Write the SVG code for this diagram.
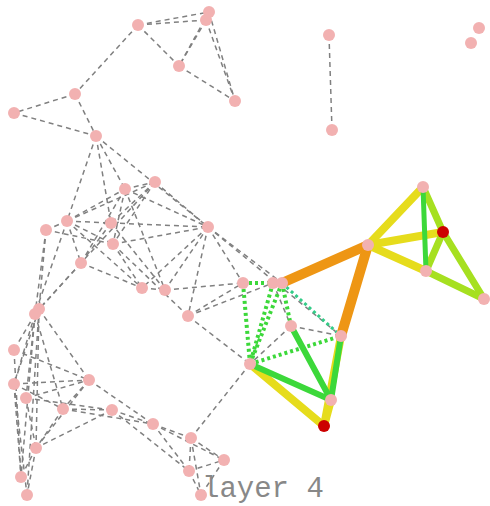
<svg xmlns="http://www.w3.org/2000/svg" width="490" height="506" viewBox="0 0 490 506">
<style>
.e{stroke:#808080;stroke-width:1.5;stroke-dasharray:5,4;fill:none}
.n{fill:#f2b1b1}
.r{fill:#cc0000}
.or{stroke:#ee9614;stroke-width:10;stroke-linecap:round}
.ye{stroke:#e6dc1c;stroke-width:8;stroke-linecap:round}
.yg{stroke:#a6e020;stroke-width:7;stroke-linecap:round}
.gr{stroke:#3cd83a;stroke-width:6;stroke-linecap:round}
.gd{stroke:#3cd83a;stroke-width:4;stroke-dasharray:3,3}
.td{stroke:#33cc88;stroke-width:3;stroke-dasharray:3,3}
text{font-family:"Liberation Mono","DejaVu Sans Mono",monospace;fill:#888}
</style>
<rect width="490" height="506" fill="#fff"/>
<g id="connectors">
<line class="e" x1="138" y1="25" x2="209" y2="12"/>
<line class="e" x1="138" y1="25" x2="206" y2="20"/>
<line class="e" x1="138" y1="25" x2="179" y2="66"/>
<line class="e" x1="209" y1="12" x2="179" y2="66"/>
<line class="e" x1="206" y1="20" x2="179" y2="66"/>
<line class="e" x1="179" y1="66" x2="235" y2="101"/>
<line class="e" x1="209" y1="12" x2="235" y2="101"/>
<line class="e" x1="206" y1="20" x2="235" y2="101"/>
<line class="e" x1="138" y1="25" x2="75" y2="94"/>
<line class="e" x1="75" y1="94" x2="14" y2="113"/>
<line class="e" x1="14" y1="113" x2="96" y2="136"/>
<line class="e" x1="75" y1="94" x2="96" y2="136"/>
<line class="e" x1="329" y1="35" x2="332" y2="130"/>
<line class="e" x1="96" y1="136" x2="67" y2="221"/>
<line class="e" x1="96" y1="136" x2="111" y2="223"/>
<line class="e" x1="96" y1="136" x2="125" y2="189"/>
<line class="e" x1="96" y1="136" x2="208" y2="227"/>
<line class="e" x1="67" y1="221" x2="125" y2="189"/>
<line class="e" x1="67" y1="221" x2="155" y2="182"/>
<line class="e" x1="46" y1="230" x2="67" y2="221"/>
<line class="e" x1="67" y1="221" x2="111" y2="223"/>
<line class="e" x1="67" y1="221" x2="113" y2="244"/>
<line class="e" x1="67" y1="221" x2="81" y2="263"/>
<line class="e" x1="67" y1="221" x2="35" y2="314"/>
<line class="e" x1="67" y1="221" x2="142" y2="288"/>
<line class="e" x1="46" y1="230" x2="35" y2="314"/>
<line class="e" x1="46" y1="230" x2="39" y2="309"/>
<line class="e" x1="46" y1="230" x2="113" y2="244"/>
<line class="e" x1="125" y1="189" x2="155" y2="182"/>
<line class="e" x1="125" y1="189" x2="113" y2="244"/>
<line class="e" x1="125" y1="189" x2="81" y2="263"/>
<line class="e" x1="125" y1="189" x2="208" y2="227"/>
<line class="e" x1="125" y1="189" x2="165" y2="290"/>
<line class="e" x1="155" y1="182" x2="208" y2="227"/>
<line class="e" x1="155" y1="182" x2="111" y2="223"/>
<line class="e" x1="155" y1="182" x2="81" y2="263"/>
<line class="e" x1="155" y1="182" x2="113" y2="244"/>
<line class="e" x1="111" y1="223" x2="208" y2="227"/>
<line class="e" x1="111" y1="223" x2="165" y2="290"/>
<line class="e" x1="111" y1="223" x2="81" y2="263"/>
<line class="e" x1="113" y1="244" x2="208" y2="227"/>
<line class="e" x1="113" y1="244" x2="142" y2="288"/>
<line class="e" x1="113" y1="244" x2="188" y2="316"/>
<line class="e" x1="208" y1="227" x2="142" y2="288"/>
<line class="e" x1="208" y1="227" x2="165" y2="290"/>
<line class="e" x1="208" y1="227" x2="188" y2="316"/>
<line class="e" x1="208" y1="227" x2="243" y2="283"/>
<line class="e" x1="208" y1="227" x2="282" y2="283"/>
<line class="e" x1="208" y1="227" x2="341" y2="336"/>
<line class="e" x1="81" y1="263" x2="142" y2="288"/>
<line class="e" x1="81" y1="263" x2="35" y2="314"/>
<line class="e" x1="81" y1="263" x2="39" y2="309"/>
<line class="e" x1="142" y1="288" x2="165" y2="290"/>
<line class="e" x1="165" y1="290" x2="243" y2="283"/>
<line class="e" x1="188" y1="316" x2="243" y2="283"/>
<line class="e" x1="188" y1="316" x2="273" y2="283"/>
<line class="e" x1="188" y1="316" x2="250" y2="364"/>
<line class="e" x1="291" y1="326" x2="341" y2="336"/>
<line class="e" x1="291" y1="326" x2="250" y2="364"/>
<line class="e" x1="273" y1="283" x2="291" y2="326"/>
<line class="e" x1="250" y1="364" x2="191" y2="438"/>
<line class="e" x1="35" y1="314" x2="14" y2="350"/>
<line class="e" x1="35" y1="314" x2="14" y2="384"/>
<line class="e" x1="39" y1="309" x2="14" y2="384"/>
<line class="e" x1="35" y1="314" x2="26" y2="398"/>
<line class="e" x1="39" y1="309" x2="89" y2="380"/>
<line class="e" x1="35" y1="314" x2="63" y2="409"/>
<line class="e" x1="39" y1="309" x2="36" y2="448"/>
<line class="e" x1="35" y1="314" x2="21" y2="477"/>
<line class="e" x1="39" y1="309" x2="27" y2="495"/>
<line class="e" x1="14" y1="350" x2="89" y2="380"/>
<line class="e" x1="14" y1="350" x2="21" y2="477"/>
<line class="e" x1="14" y1="384" x2="89" y2="380"/>
<line class="e" x1="14" y1="384" x2="63" y2="409"/>
<line class="e" x1="14" y1="384" x2="21" y2="477"/>
<line class="e" x1="14" y1="384" x2="27" y2="495"/>
<line class="e" x1="26" y1="398" x2="89" y2="380"/>
<line class="e" x1="26" y1="398" x2="112" y2="410"/>
<line class="e" x1="26" y1="398" x2="36" y2="448"/>
<line class="e" x1="89" y1="380" x2="63" y2="409"/>
<line class="e" x1="89" y1="380" x2="153" y2="424"/>
<line class="e" x1="89" y1="380" x2="36" y2="448"/>
<line class="e" x1="63" y1="409" x2="112" y2="410"/>
<line class="e" x1="63" y1="409" x2="153" y2="424"/>
<line class="e" x1="63" y1="409" x2="36" y2="448"/>
<line class="e" x1="112" y1="410" x2="36" y2="448"/>
<line class="e" x1="112" y1="410" x2="153" y2="424"/>
<line class="e" x1="112" y1="410" x2="189" y2="471"/>
<line class="e" x1="36" y1="448" x2="27" y2="495"/>
<line class="e" x1="36" y1="448" x2="21" y2="477"/>
<line class="e" x1="153" y1="424" x2="191" y2="438"/>
<line class="e" x1="153" y1="424" x2="189" y2="471"/>
<line class="e" x1="153" y1="424" x2="224" y2="460"/>
<line class="e" x1="191" y1="438" x2="224" y2="460"/>
<line class="e" x1="191" y1="438" x2="189" y2="471"/>
<line class="e" x1="191" y1="438" x2="201" y2="495"/>
<line class="e" x1="189" y1="471" x2="224" y2="460"/>
<line class="e" x1="189" y1="471" x2="201" y2="495"/>
<line class="e" x1="224" y1="460" x2="201" y2="495"/>
<line class="gd" x1="243" y1="283" x2="273" y2="283"/>
<line class="gd" x1="243" y1="283" x2="250" y2="364"/>
<line class="gd" x1="273" y1="283" x2="250" y2="364"/>
<line class="gd" x1="282" y1="283" x2="250" y2="364"/>
<line class="gd" x1="282" y1="283" x2="291" y2="326"/>
<line class="gd" x1="250" y1="364" x2="341" y2="336"/>
<line class="td" x1="282" y1="283" x2="341" y2="336"/>
<line class="ye" x1="341" y1="336" x2="324" y2="426"/>
<line class="ye" x1="250" y1="364" x2="324" y2="426"/>
<line class="ye" x1="331" y1="400" x2="324" y2="426"/>
<line class="gr" x1="341" y1="336" x2="331" y2="400"/>
<line class="gr" x1="250" y1="364" x2="331" y2="400"/>
<line class="gr" x1="291" y1="326" x2="331" y2="400"/>
<line class="or" x1="282" y1="283" x2="368" y2="245"/>
<line class="or" x1="368" y1="245" x2="341" y2="336"/>
<line class="ye" x1="368" y1="245" x2="423" y2="187"/>
<line class="ye" x1="368" y1="245" x2="443" y2="232"/>
<line class="ye" x1="368" y1="245" x2="426" y2="271"/>
<line class="yg" x1="423" y1="187" x2="443" y2="232"/>
<line class="yg" x1="443" y1="232" x2="426" y2="271"/>
<line class="yg" x1="443" y1="232" x2="484" y2="299"/>
<line class="yg" x1="426" y1="271" x2="484" y2="299"/>
<line class="gr" x1="423" y1="187" x2="426" y2="271" style="stroke-width:5"/>
</g>
<g id="nodes">
<circle id="n1" class="n" cx="138" cy="25" r="6"/>
<circle id="n2" class="n" cx="209" cy="12" r="6"/>
<circle id="n3" class="n" cx="206" cy="20" r="6"/>
<circle id="n4" class="n" cx="179" cy="66" r="6"/>
<circle id="n5" class="n" cx="235" cy="101" r="6"/>
<circle id="n6" class="n" cx="75" cy="94" r="6"/>
<circle id="n7" class="n" cx="14" cy="113" r="6"/>
<circle id="n8" class="n" cx="96" cy="136" r="6"/>
<circle id="n9" class="n" cx="329" cy="35" r="6"/>
<circle id="n10" class="n" cx="332" cy="130" r="6"/>
<circle id="n11" class="n" cx="479" cy="28" r="6"/>
<circle id="n12" class="n" cx="471" cy="43" r="6"/>
<circle id="m1" class="n" cx="125" cy="189" r="6"/>
<circle id="m2" class="n" cx="155" cy="182" r="6"/>
<circle id="m3" class="n" cx="67" cy="221" r="6"/>
<circle id="m4" class="n" cx="46" cy="230" r="6"/>
<circle id="m5" class="n" cx="111" cy="223" r="6"/>
<circle id="m6" class="n" cx="113" cy="244" r="6"/>
<circle id="m7" class="n" cx="208" cy="227" r="6"/>
<circle id="m8" class="n" cx="81" cy="263" r="6"/>
<circle id="m9" class="n" cx="142" cy="288" r="6"/>
<circle id="m10" class="n" cx="165" cy="290" r="6"/>
<circle id="m11" class="n" cx="188" cy="316" r="6"/>
<circle id="m12" class="n" cx="243" cy="283" r="6"/>
<circle id="m13" class="n" cx="39" cy="309" r="6"/>
<circle id="m14" class="n" cx="35" cy="314" r="6"/>
<circle id="g1" class="n" cx="273" cy="283" r="6"/>
<circle id="g2" class="n" cx="282" cy="283" r="6"/>
<circle id="g3" class="n" cx="291" cy="326" r="6"/>
<circle id="g4" class="n" cx="341" cy="336" r="6"/>
<circle id="g5" class="n" cx="250" cy="364" r="6"/>
<circle id="g6" class="n" cx="331" cy="400" r="6"/>
<circle id="r1" class="r" cx="324" cy="426" r="6"/>
<circle id="h1" class="n" cx="368" cy="245" r="6"/>
<circle id="h2" class="n" cx="423" cy="187" r="6"/>
<circle id="r2" class="r" cx="443" cy="232" r="6"/>
<circle id="h3" class="n" cx="426" cy="271" r="6"/>
<circle id="h4" class="n" cx="484" cy="299" r="6"/>
<circle id="b1" class="n" cx="14" cy="350" r="6"/>
<circle id="b2" class="n" cx="14" cy="384" r="6"/>
<circle id="b3" class="n" cx="89" cy="380" r="6"/>
<circle id="b4" class="n" cx="26" cy="398" r="6"/>
<circle id="b5" class="n" cx="63" cy="409" r="6"/>
<circle id="b6" class="n" cx="112" cy="410" r="6"/>
<circle id="b7" class="n" cx="153" cy="424" r="6"/>
<circle id="b8" class="n" cx="36" cy="448" r="6"/>
<circle id="b9" class="n" cx="21" cy="477" r="6"/>
<circle id="b10" class="n" cx="27" cy="495" r="6"/>
<circle id="c1" class="n" cx="191" cy="438" r="6"/>
<circle id="c2" class="n" cx="224" cy="460" r="6"/>
<circle id="c3" class="n" cx="189" cy="471" r="6"/>
<circle id="c4" class="n" cx="201" cy="495" r="6"/>
</g>
<text x="202" y="497" font-size="29">layer 4</text>
</svg>
